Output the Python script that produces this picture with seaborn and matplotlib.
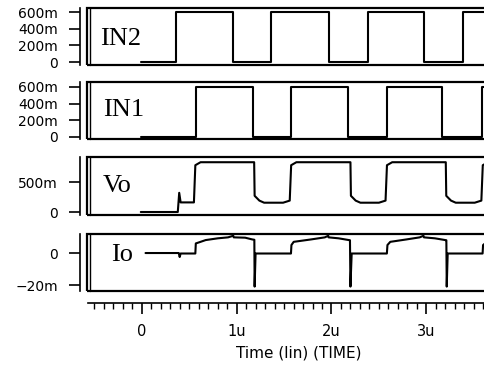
import matplotlib
matplotlib.use("Agg")
import matplotlib.pyplot as plt
import seaborn as sns
from matplotlib.ticker import MultipleLocator
from matplotlib.patches import Rectangle

# time in us
in2_t = [0, 0.37, 0.97, 1.37, 1.98, 2.39, 2.99, 3.40, 3.90]
in2_v = [0, 0.6, 0, 0.6, 0, 0.6, 0, 0.6, 0.6]
in1_t = [0, 0.58, 1.18, 1.58, 2.18, 2.60, 3.18, 3.60, 3.90]
in1_v = [0, 0.6, 0, 0.6, 0, 0.6, 0, 0.6, 0.6]

# Vo (V)
vo_t = [0.00, 0.39, 0.405, 0.42, 0.56, 0.575, 0.63,
        1.195, 1.20, 1.25, 1.30, 1.50, 1.57, 1.585, 1.64,
        2.21, 2.215, 2.265, 2.315, 2.51, 2.58, 2.595, 2.65,
        3.215, 3.22, 3.27, 3.32, 3.52, 3.59, 3.605, 3.66, 3.90]
vo_v = [0.00, 0.00, 0.32, 0.16, 0.16, 0.78, 0.83,
        0.83, 0.27, 0.19, 0.155, 0.155, 0.19, 0.78, 0.83,
        0.83, 0.27, 0.19, 0.155, 0.155, 0.19, 0.78, 0.83,
        0.83, 0.27, 0.19, 0.155, 0.155, 0.19, 0.78, 0.83, 0.83]

# Io (mA)
io_t = [0.05, 0.40, 0.41, 0.42, 0.575, 0.58, 0.63, 0.684, 0.812, 0.92, 0.975, 0.98, 1.10, 1.175,
        1.197, 1.20, 1.21, 1.583, 1.588, 1.612, 1.794, 1.94, 1.976, 1.98, 2.085, 2.194,
        2.205, 2.21, 2.223, 2.594, 2.60, 2.63, 2.80, 2.94, 2.98, 2.985, 3.10, 3.21,
        3.221, 3.225, 3.235, 3.603, 3.608, 3.65, 3.78, 3.90]
io_v = [0.0, 0.0, -2.5, -0.3, -0.3, 6.0, 7.0, 8.1, 9.2, 9.8, 10.8, 9.8, 9.6, 8.5,
        8.3, -21.0, -0.3, -0.3, 5.0, 7.0, 8.5, 9.8, 10.8, 9.8, 9.2, 8.1,
        8.0, -21.0, -0.3, -0.3, 5.0, 7.0, 8.5, 9.8, 10.8, 9.8, 9.2, 8.1,
        8.0, -21.0, -0.3, -0.3, 5.0, 7.0, 8.5, 8.8]

sns.set_style("white", {"text.color": "black", "xtick.color": "black",
                        "ytick.color": "black", "axes.labelcolor": "black"})
plt.rcParams["font.family"] = ["DejaVu Sans"]

fig = plt.figure(figsize=(4.85, 3.73), dpi=100)
left, width = 87 / 485, 407.7 / 485
xlim = (-0.567, 3.884)

panels = [
    # name, t, v, ylim, ticks, ticklabels, top px, bottom px, label x, label y, step
    ("IN2", in2_t, in2_v, (-0.036, 0.648), [0, 0.2, 0.4, 0.6], ["0", "200m", "400m", "600m"], 8, 65, 0.030, 0.45, True),
    ("IN1", in1_t, in1_v, (-0.024, 0.66), [0, 0.2, 0.4, 0.6], ["0", "200m", "400m", "600m"], 82, 139, 0.038, 0.50, True),
    ("Vo", vo_t, vo_v, (-0.05, 0.917), [0, 0.5], ["0", "500m"], 157, 215, 0.038, 0.50, False),
    ("Io", io_t, io_v, (-23.75, 11.9), [-20, 0], ["\u221220m", "0"], 234, 291, 0.056, 0.64, False),
]

for name, t, v, ylim, yt, ytl, top, bot, lx, ly, step in panels:
    ax = fig.add_axes([left, 1 - bot / 373, width + 0.03, (bot - top) / 373])
    kw = dict(drawstyle="steps-post") if step else {}
    sns.lineplot(x=t, y=v, ax=ax, color="black", lw=1.5, estimator=None, sort=False, **kw)
    ax.set_xlim(xlim)
    ax.set_ylim(ylim)
    ax.set_xticks([])
    ax.set_yticks(yt)
    ax.set_yticklabels(ytl, fontsize=10.5 if len(yt) == 2 else 9.5)
    ax.tick_params(axis="y", direction="out", length=8, width=1.2, pad=8, left=True)
    for s in ["top", "right", "bottom"]:
        ax.spines[s].set_visible(False)
    ax.spines["left"].set_position(("outward", 5))
    ax.spines["left"].set_linewidth(1.2)
    ax.spines["left"].set_color("black")
    ax.add_patch(Rectangle((0, 0), 1.2, 1, transform=ax.transAxes, fill=False,
                           lw=1.6, ec="black", clip_on=False))
    ax.plot([0.006, 0.006], [0, 1], transform=ax.transAxes, color="black", lw=1.0, clip_on=False)
    ax.text(lx, ly, name, transform=ax.transAxes, family="Liberation Serif",
            fontsize=19, va="center", ha="left")

# time ruler
rx = fig.add_axes([left + 0.002, 1 - 303 / 373, width + 0.03, 0.0005])
rx.set_xlim(xlim)
rx.set_yticks([])
for s in ["top", "right", "left"]:
    rx.spines[s].set_visible(False)
rx.spines["bottom"].set_linewidth(1.2)
rx.spines["bottom"].set_color("black")
rx.set_xticks([0, 1, 2, 3])
rx.set_xticklabels(["0", "1u", "2u", "3u"], fontsize=10.5)
rx.xaxis.set_minor_locator(MultipleLocator(0.1))
rx.tick_params(axis="x", which="major", direction="out", length=8, width=1.2, pad=7, bottom=True)
rx.tick_params(axis="x", which="minor", direction="out", length=4, width=1.0, bottom=True)
rx.set_xlabel("Time (lin) (TIME)", fontsize=11, labelpad=5)

fig.savefig("out.png", dpi=100)
